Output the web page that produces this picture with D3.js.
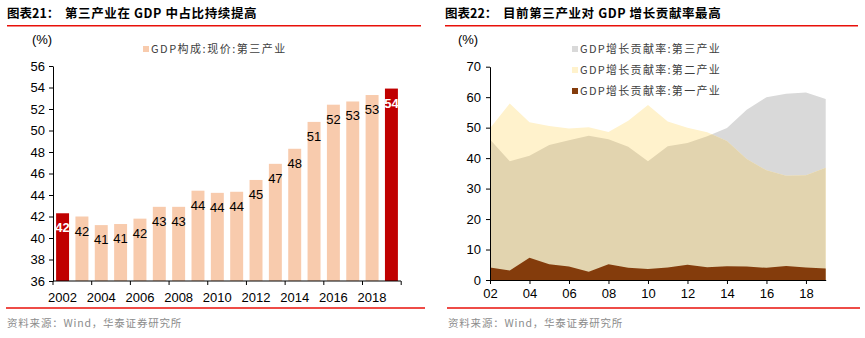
<!DOCTYPE html>
<html>
<head>
<meta charset="utf-8">
<script src="https://cdn.jsdelivr.net/npm/d3@7"></script>
<style>
  body { margin: 0; background: #fff; }
  svg text { font-family: Arial, "Liberation Sans", "Noto Sans CJK SC", sans-serif; }
  .cjk { font-family: "Noto Sans CJK SC", sans-serif; }
  .axis text { font-size: 13px; fill: #000; }
  .axis path, .axis line { stroke: #000; }
</style>
</head>
<body>
<div id="chart"></div>
<script>
// Left chart: tertiary industry share of GDP (%)
var years = d3.range(2002, 2020);
var tertiaryShare = [42.3, 42.0, 41.2, 41.3, 41.8, 42.9, 42.9, 44.4, 44.2, 44.3,
                     45.4, 46.9, 48.3, 50.8, 52.4, 52.7, 53.3, 53.9];
var highlightYears = [2002, 2019];
var shareTicks = d3.range(36, 57, 2);

// Right chart: contribution to GDP growth by industry (%)
var primaryContrib   = [4.1, 3.1, 7.3, 5.2, 4.4, 2.7, 5.2, 4.0, 3.6, 4.1, 5.0, 4.2, 4.5, 4.4, 4.0, 4.6, 4.1, 3.8];
var secondaryContrib = [49.8, 57.9, 51.8, 50.5, 49.7, 50.1, 48.6, 52.3, 57.4, 52.0, 50.0, 48.5, 45.6, 39.7, 36.0, 34.2, 34.4, 36.8];
var tertiaryContrib  = [46.1, 39.0, 40.8, 44.3, 45.9, 47.3, 46.2, 43.7, 39.0, 43.9, 45.0, 47.2, 49.9, 55.9, 60.0, 61.1, 61.5, 59.4];
var contribTicks = d3.range(0, 71, 10);
var legendNames = ["GDP增长贡献率:第三产业", "GDP增长贡献率:第二产业", "GDP增长贡献率:第一产业"];

var svg = d3.select("#chart").append("svg")
    .attr("width", 865)
    .attr("height", 338);

// ---- headers and footers ----
function header(x0, x1, label, title) {
  svg.append("text").attr("class", "cjk").attr("x", x0).attr("y", 18)
    .attr("font-size", 12.5).attr("font-weight", "bold").text(label);
  svg.append("text").attr("class", "cjk").attr("x", x0 + 58).attr("y", 18)
    .attr("font-size", 12.5).attr("font-weight", "bold").attr("letter-spacing", 0.6).text(title);
  svg.append("line").attr("x1", x0).attr("x2", x1).attr("y1", 25.7).attr("y2", 25.7)
    .attr("stroke", "#e8100a").attr("stroke-width", 1.5);
}
function footer(x0, x1) {
  svg.append("line").attr("x1", x0).attr("x2", x1).attr("y1", 308).attr("y2", 308)
    .attr("stroke", "#e8100a").attr("stroke-width", 1.5);
  svg.append("text").attr("class", "cjk").attr("x", x0 + 1).attr("y", 327)
    .attr("font-size", 10.5).attr("letter-spacing", 0.8).attr("fill", "#8c8c8c")
    .text("资料来源：Wind，华泰证券研究所");
}
header(7, 421, "图表21：", "第三产业在 GDP 中占比持续提高");
header(445, 858, "图表22：", "目前第三产业对 GDP 增长贡献率最高");
footer(6, 425);
footer(447, 860);

// ---- left chart: bars ----
var x1 = d3.scaleBand().domain(years).range([53, 401]).paddingInner(0.33).paddingOuter(0.16);
var y1 = d3.scaleLinear().domain([36, 56]).range([281, 66]);

var left = svg.append("g");

left.append("g")
    .attr("class", "axis")
    .attr("transform", "translate(53,0)")
    .call(d3.axisLeft(y1).tickValues(shareTicks).tickSize(4).tickSizeOuter(0).tickPadding(4));

left.selectAll("rect.bar")
  .data(years)
  .enter().append("rect")
    .attr("class", "bar")
    .attr("x", d => x1(d))
    .attr("width", x1.bandwidth())
    .attr("y", (d, i) => y1(tertiaryShare[i]))
    .attr("height", (d, i) => y1(36) - y1(tertiaryShare[i]))
    .attr("fill", d => highlightYears.includes(d) ? "#c00000" : "#f8cbad");

left.selectAll("text.val")
  .data(years)
  .enter().append("text")
    .attr("class", "val")
    .attr("x", d => x1(d) + x1.bandwidth() / 2)
    .attr("y", (d, i) => y1(tertiaryShare[i]) + 19)
    .attr("text-anchor", "middle")
    .attr("font-size", 13)
    .attr("font-weight", d => highlightYears.includes(d) ? "bold" : "normal")
    .attr("fill", d => highlightYears.includes(d) ? "#fff" : "#000")
    .text((d, i) => d3.format(".0f")(tertiaryShare[i]));

// bottom axis: ticks on every other band edge, labels on even years
var step = x1.step();
var xAxis1 = left.append("g").attr("class", "axis");
xAxis1.append("line").attr("x1", 53).attr("x2", 401).attr("y1", 281).attr("y2", 281);
var edgeYears = years.filter(d => d % 2 === 0).concat([2020]);
xAxis1.selectAll("line.tk").data(edgeYears).enter().append("line")
    .attr("class", "tk")
    .attr("x1", d => 53 + (d - 2002) * step)
    .attr("x2", d => 53 + (d - 2002) * step)
    .attr("y1", 281).attr("y2", 285);
xAxis1.selectAll("text").data(years.filter(d => d % 2 === 0)).enter().append("text")
    .attr("x", d => x1(d) + x1.bandwidth() / 2)
    .attr("y", 302)
    .attr("text-anchor", "middle")
    .text(d => d);

left.append("text").attr("x", 42).attr("y", 44).attr("text-anchor", "middle")
    .attr("font-size", 13).text("(%)");

left.append("rect").attr("x", 143).attr("y", 46).attr("width", 6).attr("height", 6).attr("fill", "#f8cbad");
left.append("text").attr("class", "cjk").attr("x", 151).attr("y", 53)
    .attr("font-size", 11).attr("letter-spacing", 1.5).attr("fill", "#404040").text("GDP构成:现价:第三产业");

// ---- right chart: overlapping areas ----
var x2 = d3.scaleLinear().domain([2002, 2019]).range([490, 825.7]);
var y2 = d3.scaleLinear().domain([0, 70]).range([280, 66.7]);

var right = svg.append("g");

function areaOf(values) {
  return d3.area()
    .x((d, i) => x2(years[i]))
    .y0(y2(0))
    .y1(d => y2(d))(values);
}

right.append("clipPath").attr("id", "tertiary-clip")
  .append("path").attr("d", areaOf(tertiaryContrib));

right.append("path").attr("d", areaOf(tertiaryContrib)).attr("fill", "#d9d9d9");
right.append("path").attr("d", areaOf(secondaryContrib)).attr("fill", "#fff2cc");
// where secondary and tertiary overlap
right.append("path").attr("d", areaOf(secondaryContrib)).attr("fill", "#e2d4af")
    .attr("clip-path", "url(#tertiary-clip)");
right.append("path").attr("d", areaOf(primaryContrib)).attr("fill", "#843c0c");

right.append("g")
    .attr("class", "axis")
    .attr("transform", "translate(490,0)")
    .call(d3.axisLeft(y2).tickValues(contribTicks).tickSize(4).tickSizeOuter(0).tickPadding(5));

right.append("g")
    .attr("class", "axis")
    .attr("transform", "translate(0,280)")
    .call(d3.axisBottom(x2).tickValues(years.filter(d => d % 2 === 0)).tickSize(4).tickSizeOuter(0)
      .tickPadding(5).tickFormat(d => String(d).slice(2)));

right.append("text").attr("x", 468).attr("y", 44).attr("text-anchor", "middle")
    .attr("font-size", 13).text("(%)");

var legendColors = ["#d9d9d9", "#fff2cc", "#843c0c"];
var legend = right.selectAll("g.leg").data(legendNames).enter().append("g")
    .attr("class", "leg")
    .attr("transform", (d, i) => "translate(572," + (46 + i * 21) + ")");
legend.append("rect").attr("width", 6).attr("height", 6).attr("fill", (d, i) => legendColors[i]);
legend.append("text").attr("class", "cjk").attr("x", 8).attr("y", 7)
    .attr("font-size", 11).attr("letter-spacing", 1.3).attr("fill", "#404040").text(d => d);
</script>
</body>
</html>
